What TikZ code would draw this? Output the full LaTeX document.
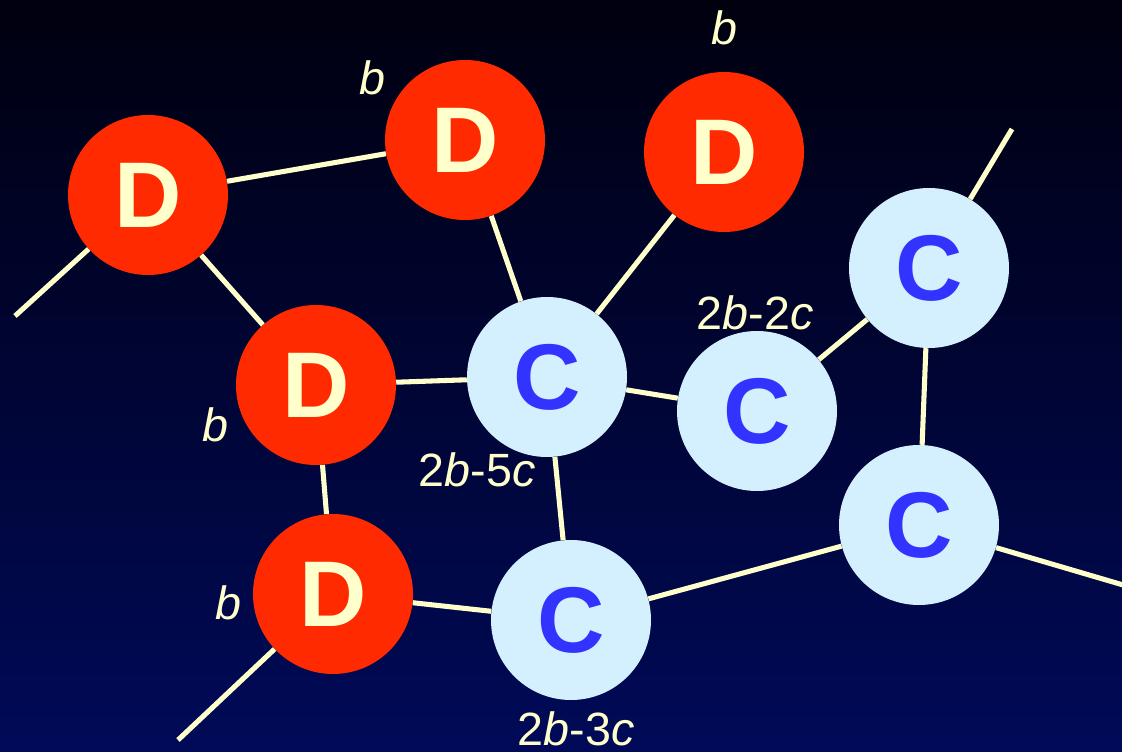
\documentclass[tikz,border=0pt]{standalone}
\usepackage{fontspec}
\setmainfont{Liberation Sans}
\begin{document}
\definecolor{bgtop}{HTML}{00000F}
\definecolor{bgbot}{HTML}{000A58}
\definecolor{dred}{HTML}{FF2A00}
\definecolor{cream}{HTML}{FFFFCC}
\definecolor{cfill}{HTML}{D4F0FF}
\definecolor{cblue}{HTML}{3333FF}
\begin{tikzpicture}[x=0.75pt,y=-0.75pt,
  dnode/.style={circle,fill=dred,minimum size=120pt,inner sep=0pt,
    text=cream,font=\fontsize{70}{70}\selectfont\bfseries},
  cnode/.style={circle,fill=cfill,minimum size=120pt,inner sep=0pt,
    text=cblue,font=\fontsize{70}{70}\selectfont\bfseries},
  link/.style={draw=cream,line width=3.8pt},
  lbl/.style={text=cream,font=\fontsize{35}{35}\selectfont,inner sep=0pt}]
  % background
  \shade[top color=bgtop,bottom color=bgbot] (0,0) rectangle (1122,752);
  \useasboundingbox (0,0) rectangle (1122,752);
  % D nodes
  \node[dnode] (d1) at (148,195) {D};
  \node[dnode] (d2) at (465,140) {D};
  \node[dnode] (d3) at (724,152) {D};
  \node[dnode] (d4) at (316,385) {D};
  \node[dnode] (d5) at (333,594) {D};
  % C nodes
  \node[cnode] (c1) at (547,377) {C};
  \node[cnode] (c2) at (757,411) {C};
  \node[cnode] (c3) at (929,268) {C};
  \node[cnode] (c4) at (919,525) {C};
  \node[cnode] (c5) at (571,620) {C};
  % dangling bond ends
  \coordinate (e1) at (15,316);
  \coordinate (e2) at (178,740);
  \coordinate (e3) at (1012,129);
  \coordinate (e4) at (1130,587);
  % bonds
  \path[link] (d1) -- (d2);
  \path[link] (d1) -- (e1);
  \path[link] (d1) -- (d4);
  \path[link] (d2) -- (c1);
  \path[link] (d3) -- (c1);
  \path[link] (d4) -- (c1);
  \path[link] (d4) -- (d5);
  \path[link] (d5) -- (c5);
  \path[link] (d5) -- (e2);
  \path[link] (c1) -- (c2);
  \path[link] (c1) -- (c5);
  \path[link] (c2) -- (c3);
  \path[link] (c3) -- (e3);
  \path[link] (c3) -- (c4);
  \path[link] (c4) -- (c5);
  \path[link] (c4) -- (e4);
  % labels
  \node[lbl] (lb1) at (372,78) {\textit{b}};
  \node[lbl] (lb2) at (724,28) {\textit{b}};
  \node[lbl] (lb3) at (215,425) {\textit{b}};
  \node[lbl] (lb4) at (228,603) {\textit{b}};
  \node[lbl] (l22) at (755,313) {2\textit{b}-2\textit{c}};
  \node[lbl] (l25) at (477,470) {2\textit{b}-5\textit{c}};
  \node[lbl] (l23) at (576,729) {2\textit{b}-3\textit{c}};
\end{tikzpicture}
\end{document}
